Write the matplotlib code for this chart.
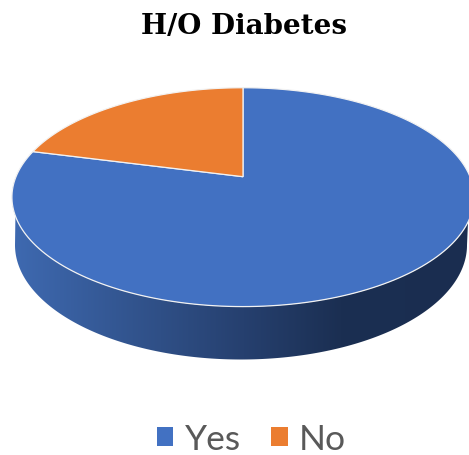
import numpy as np
import matplotlib
matplotlib.use('Agg')
import matplotlib.pyplot as plt
from matplotlib.colors import to_rgb
from matplotlib.patches import Patch, Polygon

categories = ['Yes', 'No']
values = [79, 21]
colors = ['#4271C2', '#EB7D30']
chart_title = 'H/O Diabetes'

# shading along the pie wall, left to right
wall_x = [15, 160, 243, 340, 469]
wall_colors = ['#3E69B0', '#2F4F86', '#26406F', '#1B2F52', '#1A2D50']

W, H = 469, 456
CX, CY = 243, 177.7   # pie centre on screen
A, B = 105.6, 227     # disc scale
K = 0.187             # perspective strength


def project(x, y):
    w = 1 + K * y
    return CX + B * x / w, CY - A * y / w


def slice_outline(start, stop):
    # start/stop in fractions of the circle, clockwise from 12 o'clock
    t = 2 * np.pi * np.linspace(start, stop, 200)
    px, py = project(np.sin(t), np.cos(t))
    cx, cy = project(0, 0)
    return np.column_stack([np.r_[cx, px], np.r_[cy, py]])


fig = plt.figure(figsize=(W / 100, H / 100), dpi=100)
ax = fig.add_axes([0, 0, 1, 1])
ax.set_xlim(0, W)
ax.set_ylim(H, 0)
ax.axis('off')

# wall under the front half of the disc
t = np.linspace(np.pi, 2 * np.pi, 300)
rim_x, rim_y = project(np.cos(t), np.sin(t))
low_x = 241 + 226 * np.cos(t)
low_y = 246 - 114.5 * np.sin(t)
wall = Polygon(np.column_stack([np.r_[rim_x, low_x[::-1]], np.r_[rim_y, low_y[::-1]]]),
               closed=True, fc='none', ec='none', transform=ax.transData)
ax.add_patch(wall)
xs = np.arange(W)
rgb = np.array([to_rgb(c) for c in wall_colors])
grad = np.column_stack([np.interp(xs, wall_x, rgb[:, i]) for i in range(3)])[None, :, :]
im = ax.imshow(grad, extent=[0, W, H, 0], aspect='auto', zorder=1)
im.set_clip_path(wall)

# top face
fractions = np.array(values) / sum(values)
edges = np.r_[0, np.cumsum(fractions)]
for i, cat in enumerate(categories):
    ax.add_patch(Polygon(slice_outline(edges[i], edges[i + 1]), closed=True,
                         fc=colors[i], ec='#F2F2F2', lw=0.9, zorder=2))

ax.text(244, 34, chart_title, family='DejaVu Serif', weight='bold', fontsize=20,
        color='black', ha='center', va='baseline')

handles = [Patch(fc=c, ec='none', label=n) for c, n in zip(colors, categories)]
ax.legend(handles=handles, loc='center', bbox_to_anchor=(251.5 / W, 1 - 440 / H), frameon=False, ncol=2,
          prop={'family': 'Lato', 'size': 25.5}, labelcolor='#595959',
          handlelength=0.47, handleheight=0.47, handletextpad=0.32, columnspacing=0.85,
          borderpad=0, borderaxespad=0)

fig.savefig('out.png', dpi=100, facecolor='white')
